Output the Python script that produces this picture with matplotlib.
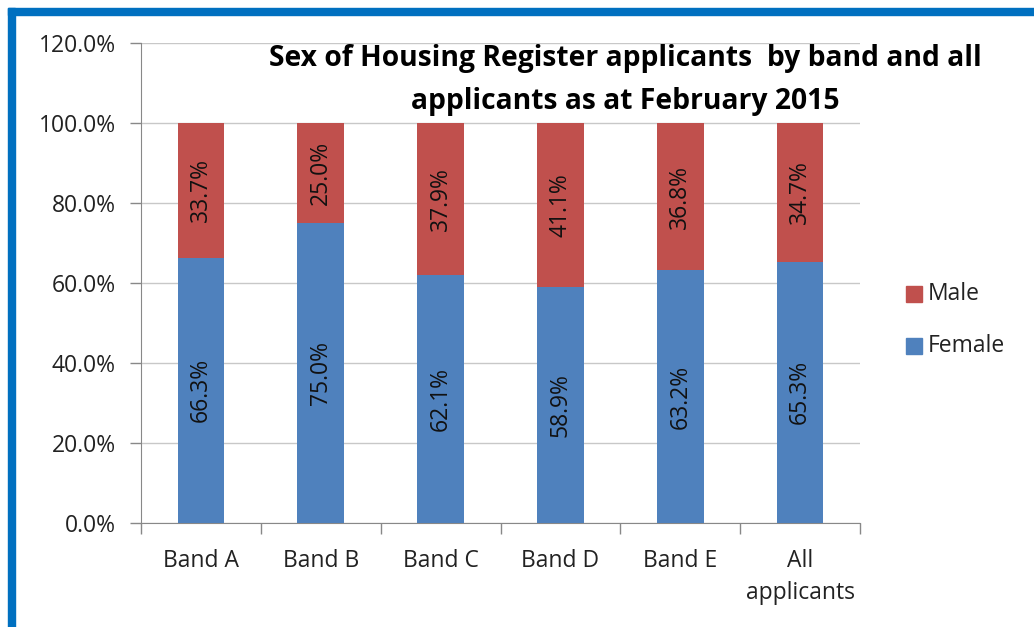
import matplotlib.pyplot as plt
from matplotlib.patches import Rectangle
from matplotlib.ticker import FuncFormatter

plt.rcParams['font.family'] = ['Open Sans', 'DejaVu Sans']

categories = ['Band A', 'Band B', 'Band C', 'Band D', 'Band E', 'All\napplicants']
female = [66.3, 75.0, 62.1, 58.9, 63.2, 65.3]
male = [33.7, 25.0, 37.9, 41.1, 36.8, 34.7]

blue = '#4f81bd'
red = '#c0504d'

fig = plt.figure(figsize=(10.34, 6.27), dpi=100)
W, H = 1034, 627
ax = fig.add_axes([141 / W, 1 - 523 / H, (860 - 141) / W, (523 - 43) / H])

x = list(range(len(categories)))
ax.bar(x, female, width=0.39, color=blue, zorder=3)
ax.bar(x, male, width=0.39, bottom=female, color=red, zorder=3)

for i in x:
    ax.text(i, female[i] / 2, f'{female[i]:.1f}%', rotation=90, ha='center', va='center',
            fontsize=16.5, color='#111111', zorder=4)
    ax.text(i, female[i] + male[i] / 2, f'{male[i]:.1f}%', rotation=90, ha='center', va='center',
            fontsize=16.5, color='#111111', zorder=4)

ax.set_xlim(-0.5, len(categories) - 0.5)
ax.set_ylim(0, 120)
ax.set_yticks(range(0, 121, 20))
ax.yaxis.set_major_formatter(FuncFormatter(lambda v, p: f'{v:.1f}%'))
ax.set_xticks([i - 0.5 for i in range(len(categories) + 1)], minor=False)
ax.set_xticklabels([])
ax.set_xticks(x, minor=True)
ax.set_xticklabels(categories, minor=True, fontsize=16.5, color='#222222', linespacing=1.45)
ax.tick_params(axis='x', which='minor', length=0, pad=19)
ax.tick_params(axis='x', which='major', length=8, color='#888888', width=1)
ax.tick_params(axis='y', length=8, color='#888888', width=1, labelsize=16.5, labelcolor='#222222', pad=10)

ax.grid(axis='y', color='#c8c8c8', lw=1, zorder=0)
for s in ['top', 'right']:
    ax.spines[s].set_visible(False)
for s in ['left', 'bottom']:
    ax.spines[s].set_color('#888888')

fig.text(625 / W, 1 - 80 / H, 'Sex of Housing Register applicants  by band and all\napplicants as at February 2015',
         ha='center', va='center', fontsize=20.3, fontweight='bold', linespacing=1.65)

# legend
for label, col, yy in [('Male', red, 294), ('Female', blue, 346)]:
    fig.patches.append(Rectangle((906 / W, 1 - (yy + 8) / H), 16 / W, 16 / H,
                                 transform=fig.transFigure, color=col))
    fig.text(928 / W, 1 - yy / H, label, ha='left', va='center', fontsize=16.5, color='#222222')

# blue frame
fig.patches.append(Rectangle((8 / W, 0), 7 / W, 1 - 8 / H, transform=fig.transFigure, color='#0070c0'))
fig.patches.append(Rectangle((8 / W, 1 - 15 / H), 1 - 8 / W, 7 / H, transform=fig.transFigure, color='#0070c0'))

fig.savefig('out.png', dpi=100)
